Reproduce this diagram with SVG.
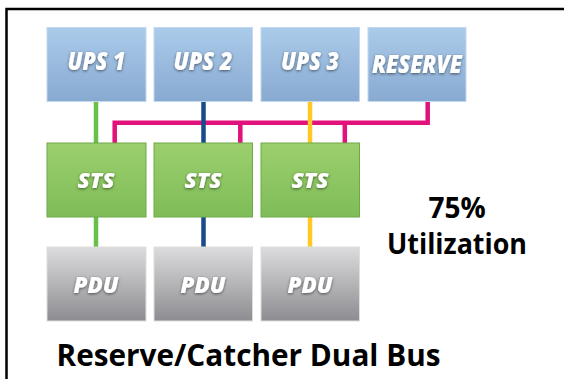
<svg xmlns="http://www.w3.org/2000/svg" width="564" height="379" viewBox="0 0 564 379">
  <defs>
    <linearGradient id="gUps" x1="0" y1="0" x2="0" y2="1">
      <stop offset="0" stop-color="#abcbea"/>
      <stop offset="1" stop-color="#88aad1"/>
    </linearGradient>
    <linearGradient id="gSts" x1="0" y1="0" x2="0" y2="1">
      <stop offset="0" stop-color="#9ccf6d"/>
      <stop offset="1" stop-color="#7ebd58"/>
    </linearGradient>
    <linearGradient id="gPdu" x1="0" y1="0" x2="0" y2="1">
      <stop offset="0" stop-color="#dcdcde"/>
      <stop offset="1" stop-color="#8d8d91"/>
    </linearGradient>
    <filter id="shadow" x="-20%" y="-40%" width="140%" height="180%">
      <feDropShadow dx="0" dy="1" stdDeviation="1.6" flood-color="#000" flood-opacity="0.55"/>
    </filter>
  </defs>
  <style>
    .ups { fill: url(#gUps); stroke: #c2d8ee; stroke-width: 1; }
    .sts { fill: url(#gSts); stroke: #6fa84a; stroke-width: 1; }
    .pdu { fill: url(#gPdu); stroke: #dedede; stroke-width: 1; }
    .lbl { font-family: "Open Sans", "Liberation Sans", sans-serif; font-weight: 800; font-style: italic; fill: #ffffff; text-anchor: middle; filter: url(#shadow); }
    .big { font-family: "Open Sans", "Liberation Sans", sans-serif; font-weight: bold; fill: #000000; text-anchor: middle; }
    .wire { fill: none; stroke-width: 4.5; }
  </style>
  <rect x="0" y="0" width="564" height="379" fill="#ffffff"/>
  <path d="M6.5,379 V9 H564" fill="none" stroke="#000000" stroke-width="2.5"/>

  <g id="connectors">
    <path class="wire" stroke="#e2127c" d="M114.7,143 V122.7 H427.7 V101.5 M240.3,122.7 V143 M344.8,122.7 V143"/>
    <path class="wire" stroke="#6abf48" d="M96,101.5 V143 M96,217 V247"/>
    <path class="wire" stroke="#174b8c" d="M203.5,101.5 V143 M203.5,217 V247"/>
    <path class="wire" stroke="#ffc824" d="M310,101.5 V143 M310,217 V247"/>
  </g>

  <g id="ups1"><rect class="ups" x="47" y="27.5" width="99" height="74"/><text class="lbl" x="96.5" y="70" font-size="24" textLength="58" lengthAdjust="spacingAndGlyphs">UPS 1</text></g>
  <g id="ups2"><rect class="ups" x="154" y="27.5" width="98.5" height="74"/><text class="lbl" x="203" y="70" font-size="24" textLength="59" lengthAdjust="spacingAndGlyphs">UPS 2</text></g>
  <g id="ups3"><rect class="ups" x="261" y="27.5" width="98.5" height="74"/><text class="lbl" x="310" y="70" font-size="24" textLength="58" lengthAdjust="spacingAndGlyphs">UPS 3</text></g>
  <g id="reserve"><rect class="ups" x="368" y="27.5" width="98" height="74"/><text class="lbl" x="417" y="72.5" font-size="24" textLength="90" lengthAdjust="spacingAndGlyphs">RESERVE</text></g>

  <g id="sts1"><rect class="sts" x="47" y="143" width="99" height="74"/><text class="lbl" x="96" y="188" font-size="21.5" textLength="37" lengthAdjust="spacingAndGlyphs">STS</text></g>
  <g id="sts2"><rect class="sts" x="154" y="143" width="98.5" height="74"/><text class="lbl" x="203" y="188" font-size="21.5" textLength="37" lengthAdjust="spacingAndGlyphs">STS</text></g>
  <g id="sts3"><rect class="sts" x="261" y="143" width="98.5" height="74"/><text class="lbl" x="310" y="188" font-size="21.5" textLength="37" lengthAdjust="spacingAndGlyphs">STS</text></g>

  <g id="pdu1"><rect class="pdu" x="47" y="247" width="99" height="74"/><text class="lbl" x="96" y="292.5" font-size="22.5" textLength="45" lengthAdjust="spacingAndGlyphs">PDU</text></g>
  <g id="pdu2"><rect class="pdu" x="154" y="247" width="98.5" height="74"/><text class="lbl" x="203" y="292.5" font-size="22.5" textLength="45" lengthAdjust="spacingAndGlyphs">PDU</text></g>
  <g id="pdu3"><rect class="pdu" x="261" y="247" width="98.5" height="74"/><text class="lbl" x="310" y="292.5" font-size="22.5" textLength="45" lengthAdjust="spacingAndGlyphs">PDU</text></g>

  <g id="utilization">
    <text class="big" x="457" y="218.3" font-size="28">75%</text>
    <text class="big" x="457" y="254" font-size="28" textLength="140" lengthAdjust="spacingAndGlyphs">Utilization</text>
  </g>
  <g id="title">
    <text class="big" x="248.5" y="365.5" font-size="30" textLength="384" lengthAdjust="spacingAndGlyphs">Reserve/Catcher Dual Bus</text>
  </g>
</svg>
